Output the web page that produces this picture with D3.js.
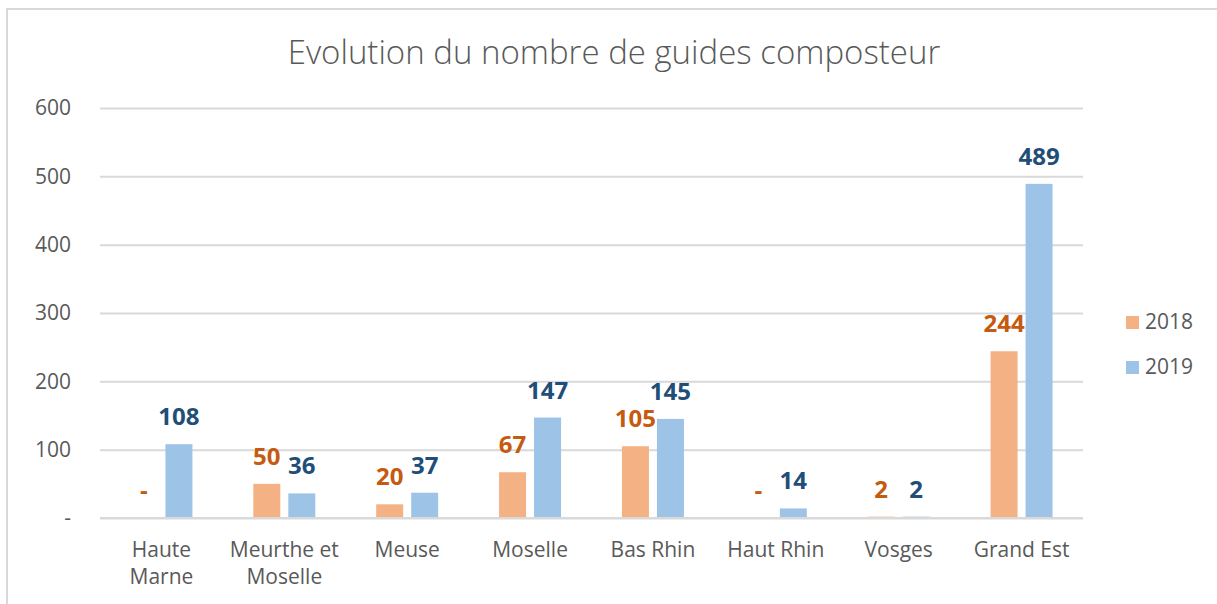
<!DOCTYPE html>
<html lang="fr">
<head>
<meta charset="UTF-8">
<title>Evolution du nombre de guides composteur</title>
<style>
  body { margin: 0; background: #fff; font-family: "Open Sans", sans-serif; }
  svg { display: block; }
</style>
<script src="https://d3js.org/d3.v7.min.js"></script>
</head>
<body>
<div id="chart"></div>
<script>
// data
const categories = [["Haute", "Marne"], ["Meurthe et", "Moselle"], ["Meuse"], ["Moselle"], ["Bas Rhin"], ["Haut Rhin"], ["Vosges"], ["Grand Est"]];
const seriesNames = ["2018", "2019"];
const values2018 = [0, 50, 20, 67, 105, 0, 2, 244];
const values2019 = [108, 36, 37, 147, 145, 14, 2, 489];
const yTicks = [0, 100, 200, 300, 400, 500, 600];

const barColors = { "2018": "#F4B183", "2019": "#9DC3E6" };
const labelColors = { "2018": "#C55A11", "2019": "#1F4E79" };
const textGray = "#595959";
const gridGray = "#D9D9D9";

const width = 1217, height = 604;
const margin = { left: 100, right: 134, top: 108, bottom: 86 };
const fmt = v => v === 0 ? "-" : d3.format(",")(v);

const svg = d3.select("#chart").append("svg")
  .attr("width", width)
  .attr("height", height);

// chart frame (only top and left edges are visible in the crop)
svg.append("rect")
  .attr("x", 7).attr("y", 9)
  .attr("width", 1240).attr("height", 640)
  .attr("fill", "none")
  .attr("stroke", gridGray)
  .attr("stroke-width", 2);

svg.append("text")
  .attr("x", 614).attr("y", 64)
  .attr("text-anchor", "middle")
  .attr("font-size", 33)
  .attr("font-weight", 300)
  .attr("fill", textGray)
  .text("Evolution du nombre de guides composteur");

const x0 = d3.scaleBand()
  .domain(d3.range(categories.length))
  .range([margin.left, width - margin.right]);

const x1 = d3.scaleBand()
  .domain(seriesNames)
  .range([0, 62])
  .paddingInner(8 / 35);

const y = d3.scaleLinear()
  .domain([0, 600])
  .range([height - margin.bottom, margin.top]);

// gridlines + y labels
const yAxis = svg.append("g")
  .attr("transform", `translate(${margin.left},0)`)
  .call(d3.axisLeft(y)
    .tickValues(yTicks)
    .tickSize(-(width - margin.left - margin.right))
    .tickPadding(29)
    .tickFormat(fmt));
yAxis.select(".domain").remove();
yAxis.selectAll(".tick line").attr("stroke", gridGray).attr("stroke-width", 2);
yAxis.selectAll(".tick text")
  .attr("fill", textGray)
  .attr("font-size", 21)
  .attr("font-family", "'Open Sans', sans-serif");

// bars
const rows = categories.map((c, i) => ({ i, vals: [
  { key: "2018", v: values2018[i] },
  { key: "2019", v: values2019[i] }
]}));

const groups = svg.append("g").selectAll("g")
  .data(rows)
  .join("g")
  .attr("transform", d => `translate(${x0(d.i) + x0.bandwidth() / 2 - 31},0)`);

groups.selectAll("rect")
  .data(d => d.vals)
  .join("rect")
  .attr("x", d => x1(d.key))
  .attr("y", d => y(d.v))
  .attr("width", x1.bandwidth())
  .attr("height", d => y(0) - y(d.v))
  .attr("fill", d => barColors[d.key]);

groups.selectAll("text")
  .data(d => d.vals)
  .join("text")
  .attr("x", d => x1(d.key) + x1.bandwidth() / 2)
  .attr("y", d => y(d.v) - 19)
  .attr("text-anchor", "middle")
  .attr("font-size", 24)
  .attr("font-weight", "bold")
  .attr("fill", d => labelColors[d.key])
  .text(d => fmt(d.v));

// baseline
svg.append("line")
  .attr("x1", margin.left).attr("x2", width - margin.right)
  .attr("y1", y(0)).attr("y2", y(0))
  .attr("stroke", gridGray)
  .attr("stroke-width", 2);

// category labels
const catLabels = svg.append("g").selectAll("text")
  .data(categories)
  .join("text")
  .attr("x", (d, i) => x0(i) + x0.bandwidth() / 2)
  .attr("y", 557)
  .attr("text-anchor", "middle")
  .attr("font-size", 21)
  .attr("fill", textGray);
catLabels.selectAll("tspan")
  .data(d => d)
  .join("tspan")
  .attr("x", function () { return this.parentNode.getAttribute("x"); })
  .attr("dy", (d, j) => j === 0 ? 0 : 27)
  .text(d => d);

// legend
const legend = svg.append("g").selectAll("g")
  .data(seriesNames)
  .join("g")
  .attr("transform", (d, i) => `translate(1126,${316 + i * 45})`);
legend.append("rect")
  .attr("width", 13).attr("height", 13)
  .attr("fill", d => barColors[d]);
legend.append("text")
  .attr("x", 19).attr("y", 13)
  .attr("font-size", 21)
  .attr("fill", textGray)
  .text(d => d);
</script>
</body>
</html>
